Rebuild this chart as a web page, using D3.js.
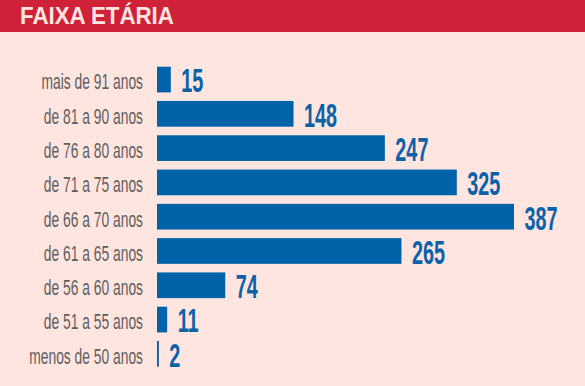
<!DOCTYPE html>
<html>
<head>
<meta charset="utf-8">
<script src="https://cdn.jsdelivr.net/npm/d3@7"></script>
<style>
  html, body { margin: 0; padding: 0; background: #fee5e0; }
  svg { display: block; }
</style>
</head>
<body>
<svg id="chart" width="585" height="386"></svg>
<script>
const title = "FAIXA ETÁRIA";
const categories = [
  "mais de 91 anos",
  "de 81 a 90 anos",
  "de 76 a 80 anos",
  "de 71 a 75 anos",
  "de 66 a 70 anos",
  "de 61 a 65 anos",
  "de 56 a 60 anos",
  "de 51 a 55 anos",
  "menos de 50 anos"
];
const values = [15, 148, 247, 325, 387, 265, 74, 11, 2];

const W = 585, H = 386;
const svg = d3.select("#chart");

svg.append("rect").attr("x", 0).attr("y", 0).attr("width", W).attr("height", H).attr("fill", "#fee5e0");
svg.append("rect").attr("x", 0).attr("y", 0).attr("width", W).attr("height", 32).attr("fill", "#cf2239");
svg.append("text")
  .attr("transform", "translate(20,24) scale(0.91,1)")
  .attr("font-family", "'Liberation Sans', Arial, sans-serif")
  .attr("font-weight", "bold")
  .attr("font-size", 24.5)
  .attr("fill", "#fee5e0")
  .text(title);

const x = d3.scaleLinear().domain([0, d3.max(values)]).range([157, 514]);
const y = d3.scaleBand().domain(categories).range([66.7, 366.7]).paddingInner(0.25);

const rows = svg.append("g").selectAll("g").data(categories).join("g");

rows.append("rect")
  .attr("x", x(0))
  .attr("y", d => y(d))
  .attr("width", (d, i) => Math.max(1.8, x(values[i]) - x(0)))
  .attr("height", y.bandwidth())
  .attr("fill", "#0063a9");

rows.append("text")
  .attr("transform", d => `translate(143,${y(d) + y.bandwidth() - 3}) scale(0.615,1)`)
  .attr("text-anchor", "end")
  .attr("font-family", "'Liberation Sans', Arial, sans-serif")
  .attr("font-size", 22.5)
  .attr("fill", "#5e5e5e")
  .text(d => d);

rows.append("text")
  .attr("transform", (d, i) => `translate(${Math.max(x(values[i]), x(0) + 1.8) + 10.5},${y(d) + y.bandwidth()}) scale(0.61,1)`)
  .attr("font-family", "'Liberation Sans', Arial, sans-serif")
  .attr("font-weight", "bold")
  .attr("font-size", 32.5)
  .attr("fill", "#0b62a8")
  .text((d, i) => values[i]);
</script>
</body>
</html>
